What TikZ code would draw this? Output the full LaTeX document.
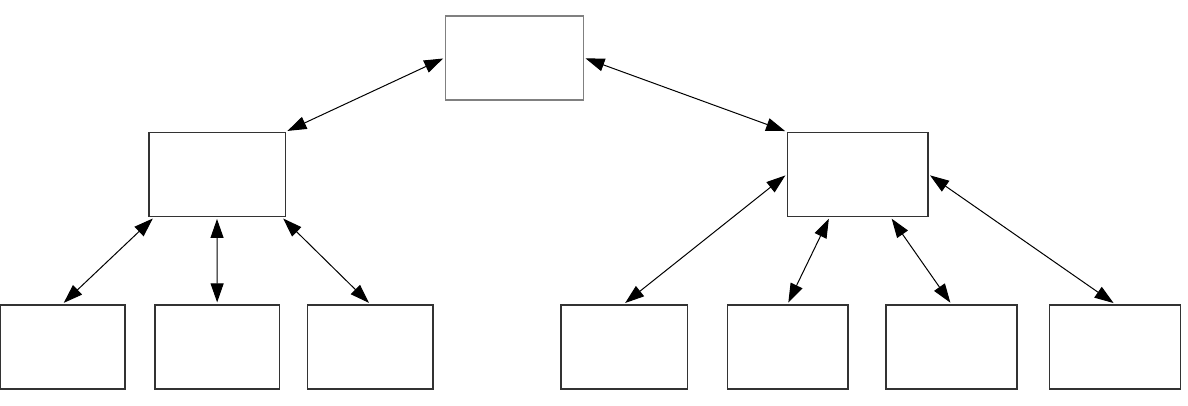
\documentclass[tikz,border=0pt]{standalone}
\usetikzlibrary{arrows.meta}
\definecolor{boxline}{HTML}{333333}
\definecolor{topline}{HTML}{808080}
\begin{document}
\begin{tikzpicture}[x=1pt,y=-1pt,
  box/.style={draw=boxline,line width=1.6pt,fill=white,inner sep=0pt,minimum width=#1,minimum height=84.3pt},
  link/.style={line width=1pt,black,{Triangle[length=19pt,width=13pt]}-{Triangle[length=19pt,width=13pt]},shorten <=1.5pt,shorten >=1.5pt}]
\useasboundingbox (0,0) rectangle (1188,405);
\node[box=138pt,draw=topline,minimum height=84.3pt] (top) at (514.3,57.85) {};
\node[box=136.6pt] (lm) at (217,174.5) {};
\node[box=140.7pt] (rm) at (857.65,174.5) {};
\node[box=124.7pt] (b1) at (62.65,346.85) {};
\node[box=124.3pt] (b2) at (217.15,346.85) {};
\node[box=125.4pt] (b3) at (370,346.85) {};
\node[box=126.6pt] (b4) at (624,346.85) {};
\node[box=120.7pt] (b5) at (787.65,346.85) {};
\node[box=131pt] (b6) at (951.2,346.85) {};
\node[box=131pt] (b7) at (1114.8,346.85) {};
\draw[link] (top.west) -- (lm.north east);
\draw[link] (top.east) -- (rm.north west);
\draw[link] ([xshift=6pt]lm.south west) -- (b1.north);
\draw[link] (lm.south) -- (b2.north);
\draw[link] ([xshift=-4pt]lm.south east) -- (b3.north);
\draw[link] (rm.west) -- (b4.north);
\draw[link] ([xshift=43pt]rm.south west) -- (b5.north);
\draw[link] ([xshift=-38pt]rm.south east) -- (b6.north);
\draw[link] (rm.east) -- (b7.north);
\end{tikzpicture}
\end{document}
